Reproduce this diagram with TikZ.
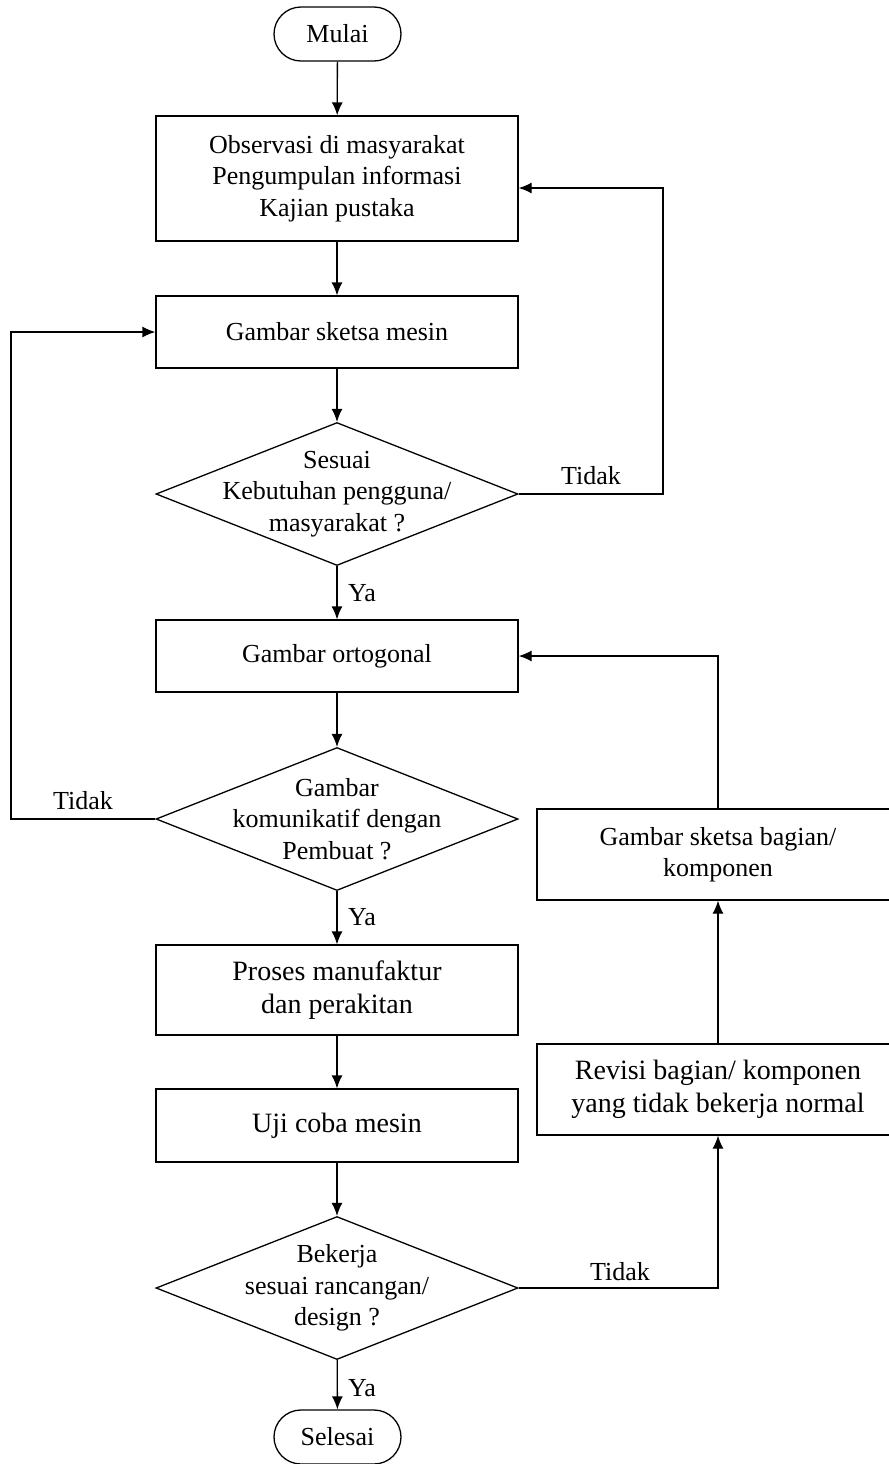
\documentclass[tikz,border=0pt]{standalone}
\usepackage{fontspec}
\setmainfont{Liberation Serif}
\usetikzlibrary{shapes.geometric,arrows.meta}
\tikzset{
	kotak/.style={draw, minimum width=181pt, inner sep=0pt, align=center},
	keputusan/.style={draw, diamond, minimum width=181pt, minimum height=71.5pt, inner sep=0pt},
	terminal/.style={draw, rounded corners=13.5pt, minimum width=63.5pt, minimum height=27pt, inner sep=0pt},
	ket/.style={inner sep=0pt},
	besar/.style={font=\fontsize{14}{16.5}\selectfont}
}
\begin{document}
\begin{tikzpicture}[x=0.5pt, y=-0.5pt, font=\fontsize{13}{15.75}\selectfont, line width=0.65pt, >={Latex[length=6.5pt,width=5.5pt]}]
		\useasboundingbox (0,0) rectangle (889,1464);
		% Kolom utama
		\node[terminal] (mulai) at (337.5,34) {Mulai};
		\node[kotak, minimum height=62.5pt] (obs) at (337,178.5) {Observasi di masyarakat\\Pengumpulan informasi\\Kajian pustaka};
		\node[kotak, minimum height=36pt] (sketsa) at (337,332) {Gambar sketsa mesin};
		\node[keputusan] (cek1) at (337,494) {};
		\node[align=center] (cek1t) at (cek1) {Sesuai\\Kebutuhan pengguna/\\masyarakat ?};
		\node[kotak, minimum height=36pt] (orto) at (337,656) {Gambar ortogonal};
		\node[keputusan] (cek2) at (337,819) {};
		\node[align=center] (cek2t) at (cek2) {Gambar\\komunikatif dengan\\Pembuat ?};
		\node[kotak, besar, minimum height=45pt] (proses) at (337,990) {Proses manufaktur\\dan perakitan};
		\node[kotak, besar, minimum height=36.5pt] (uji) at (337,1125.5) {Uji coba mesin};
		\node[keputusan] (cek3) at (337,1288) {};
		\node[align=center] (cek3t) at (cek3) {Bekerja\\sesuai rancangan/\\design ?};
		\node[terminal] (selesai) at (337.5,1437) {Selesai};
		% Kolom kanan
		\node[kotak, minimum height=45.5pt] (bagian) at (718,854.5) {Gambar sketsa bagian/\\komponen};
		\node[kotak, besar, minimum height=45.5pt] (revisi) at (718,1089.5) {Revisi bagian/ komponen\\yang tidak bekerja normal};
		% Keterangan
		\node[ket] (tidak1) at (591,476) {Tidak};
		\node[ket] (tidak2) at (83,801) {Tidak};
		\node[ket] (tidak3) at (620,1272) {Tidak};
		\node[ket] (ya1) at (362,593) {Ya};
		\node[ket] (ya2) at (362,917) {Ya};
		\node[ket] (ya3) at (362,1388) {Ya};
		% Panah
		\draw[->] (mulai) -- (obs);
		\draw[->] (obs) -- (sketsa);
		\draw[->] (sketsa) -- (cek1);
		\draw[->] (cek1) -- (orto);
		\draw[->] (orto) -- (cek2);
		\draw[->] (cek2) -- (proses);
		\draw[->] (proses) -- (uji);
		\draw[->] (uji) -- (cek3);
		\draw[->] (cek3) -- (selesai);
		\coordinate (k1) at (663,188);
		\draw[->] (cek1.east) -| (k1) -- (k1 -| obs.east);
		\coordinate (k2) at (11,819);
		\draw[->] (cek2.west) -- (k2) |- (sketsa.west);
		\draw[->] (cek3.east) -| (revisi.south);
		\draw[->] (revisi) -- (bagian);
		\draw[->] (bagian.north) |- (orto.east);
\end{tikzpicture}
\end{document}
